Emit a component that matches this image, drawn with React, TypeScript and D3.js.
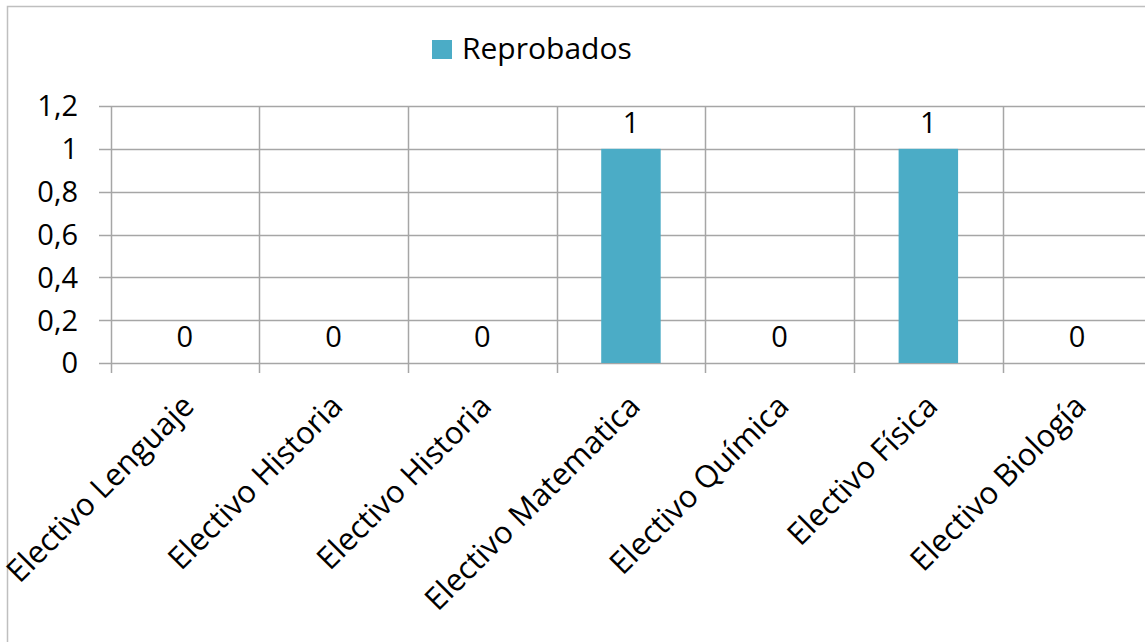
import React, { useEffect, useRef } from 'react';
import * as d3 from 'd3';

const categories = [
  'Electivo Lenguaje',
  'Electivo Historia',
  'Electivo Historia',
  'Electivo Matematica',
  'Electivo Química',
  'Electivo Física',
  'Electivo Biología',
];
const reprobados = [0, 0, 0, 1, 0, 1, 0];
const yTicks = [0, 0.2, 0.4, 0.6, 0.8, 1, 1.2];
const seriesName = 'Reprobados';

function App() {
  const ref = useRef(null);

  useEffect(() => {
    const svg = d3.select(ref.current);
    svg.selectAll('*').remove();

    const width = 1145;
    const height = 642;
    const font = '"Open Sans", sans-serif';
    const grid = '#a6a6a6';

    svg.attr('width', width).attr('height', height);

    svg
      .append('rect')
      .attr('x', 7.5)
      .attr('y', 6.5)
      .attr('width', width + 20)
      .attr('height', height + 20)
      .attr('fill', '#fff')
      .attr('stroke', '#bfbfbf')
      .attr('stroke-width', 1.5);

    const x = d3
      .scaleBand()
      .domain(categories.map((_, i) => String(i)))
      .range([110.5, 110.5 + 148.7 * categories.length])
      .padding(0);

    const y = d3.scaleLinear().domain([0, 1.2]).range([363, 106]);

    // horizontal grid + y labels
    const gy = svg.append('g');
    gy.selectAll('line')
      .data(yTicks)
      .join('line')
      .attr('x1', 99)
      .attr('x2', width)
      .attr('y1', (d) => Math.round(y(d)) + 0.5)
      .attr('y2', (d) => Math.round(y(d)) + 0.5)
      .attr('stroke', grid)
      .attr('stroke-width', 1.5);
    gy.selectAll('text')
      .data(yTicks)
      .join('text')
      .attr('x', 78)
      .attr('y', (d) => y(d))
      .attr('dy', '0.36em')
      .attr('text-anchor', 'end')
      .attr('font-family', font)
      .attr('font-size', 29)
      .attr('fill', '#000')
      .text((d) => String(d).replace('.', ','));

    // vertical grid lines at band edges
    const edges = categories.map((_, i) => x(String(i)));
    svg
      .append('g')
      .selectAll('line')
      .data(edges)
      .join('line')
      .attr('x1', (d) => Math.round(d) + 0.5)
      .attr('x2', (d) => Math.round(d) + 0.5)
      .attr('y1', y(1.2))
      .attr('y2', y(0) + 10)
      .attr('stroke', grid)
      .attr('stroke-width', 1.5);

    // bars
    const bw = x.bandwidth() * 0.4;
    svg
      .append('g')
      .selectAll('rect')
      .data(reprobados)
      .join('rect')
      .attr('x', (d, i) => x(String(i)) + (x.bandwidth() - bw) / 2)
      .attr('y', (d) => y(d))
      .attr('width', bw)
      .attr('height', (d) => y(0) - y(d))
      .attr('fill', '#4bacc6');

    // data labels
    svg
      .append('g')
      .selectAll('text')
      .data(reprobados)
      .join('text')
      .attr('x', (d, i) => x(String(i)) + x.bandwidth() / 2)
      .attr('y', (d) => y(d) - 16)
      .attr('text-anchor', 'middle')
      .attr('font-family', font)
      .attr('font-size', 29)
      .attr('fill', '#000')
      .text((d) => d);

    // category labels
    svg
      .append('g')
      .selectAll('text')
      .data(categories)
      .join('text')
      .attr('transform', (d, i) => {
        const cx = x(String(i)) + x.bandwidth() / 2 + 11;
        return `translate(${cx},${408}) rotate(-45)`;
      })
      .attr('text-anchor', 'end')
      .attr('font-family', font)
      .attr('font-size', 31)
      .attr('fill', '#000')
      .text((d) => d);

    // legend
    const lg = svg.append('g');
    lg.append('rect')
      .attr('x', 432)
      .attr('y', 40)
      .attr('width', 20)
      .attr('height', 19)
      .attr('fill', '#4bacc6');
    lg.append('text')
      .attr('x', 462)
      .attr('y', 59)
      .attr('font-family', font)
      .attr('font-size', 30)
      .attr('fill', '#000')
      .text(seriesName);
  }, []);

  return (
    <svg
      ref={ref}
      style={{ position: 'absolute', left: 0, top: 0, display: 'block' }}
    ></svg>
  );
}

export default App;
